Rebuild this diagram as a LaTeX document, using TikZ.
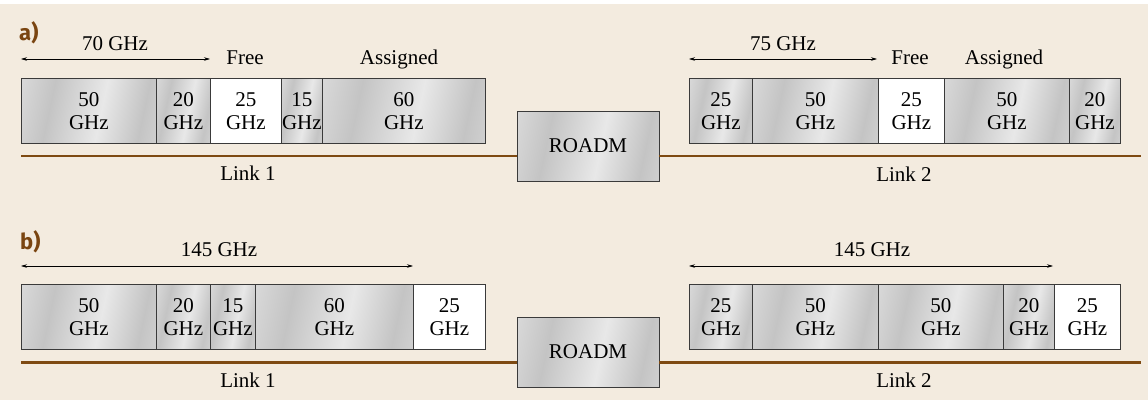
\documentclass[tikz,border=0pt]{standalone}
\usepackage{fontspec}
\setmainfont{Liberation Serif}
\newfontfamily\panelfont{Fira Sans}
\usetikzlibrary{arrows.meta}

\definecolor{paper}{HTML}{F3EBDF}
\definecolor{linkbrown}{HTML}{7E4A12}
\definecolor{labelbrown}{HTML}{7A4511}
\definecolor{edgegray}{HTML}{3A3A3A}
\definecolor{metalA}{HTML}{C4C4C4}
\definecolor{metalB}{HTML}{DCDCDC}
\definecolor{metalC}{HTML}{E8E8E8}

% brushed-metal look of the spectrum slots and the ROADM box
\pgfdeclarehorizontalshading{metal}{100bp}{%
  color(0bp)=(metalA); color(18bp)=(metalB); color(34bp)=(metalA);
  color(55bp)=(metalC); color(72bp)=(metalA); color(88bp)=(metalB);
  color(100bp)=(metalA)}

\tikzset{
  txt/.style={font=\fontsize{21}{23}\selectfont, inner sep=0pt},
  slotbase/.style={txt, draw=edgegray, line width=0.8pt, align=center,
    minimum height=65pt, anchor=north west},
  usedslot/.style={slotbase, shading=metal, shading angle=-12},
  freeslot/.style={slotbase, fill=white},
  roadm/.style={txt, draw=edgegray, line width=0.9pt, shading=metal,
    shading angle=-12, minimum width=142pt, minimum height=70pt},
  link/.style={draw=linkbrown, line width=2.6pt},
  span/.style={line width=0.6pt, {Stealth[length=6pt,width=3.5pt]}-{Stealth[length=6pt,width=3.5pt]}},
  panellabel/.style={font=\panelfont\bfseries\fontsize{22}{22}\selectfont,
    text=labelbrown, inner sep=0pt, anchor=base west},
}

\begin{document}
\begin{tikzpicture}[x=1pt, y=-1pt]
  \useasboundingbox (0,0) rectangle (1148,400);
  \fill[paper] (0,4) rectangle (1148,400);

  % ---------------- a) ----------------
  \node[panellabel] (pa) at (19,40) {a)};

  % link 1 spectrum
  \node[usedslot, minimum width=135pt] (a11) at (21,78)  {50\\GHz};
  \node[usedslot, minimum width=54pt]  (a12) at (156,78) {20\\GHz};
  \node[freeslot, minimum width=71pt]  (a13) at (210,78) {25\\GHz};
  \node[usedslot, minimum width=41pt]  (a14) at (281,78) {15\\GHz};
  \node[usedslot, minimum width=163pt] (a15) at (322,78) {60\\GHz};

  % link 2 spectrum
  \node[usedslot, minimum width=63pt]  (a21) at (689,78)  {25\\GHz};
  \node[usedslot, minimum width=126pt] (a22) at (752,78)  {50\\GHz};
  \node[freeslot, minimum width=66pt]  (a23) at (878,78)  {25\\GHz};
  \node[usedslot, minimum width=125pt] (a24) at (944,78)  {50\\GHz};
  \node[usedslot, minimum width=51pt]  (a25) at (1069,78) {20\\GHz};

  % spans and legends
  \coordinate (as1) at (21,59);  \coordinate (ae1) at (210,59);
  \coordinate (as2) at (689,59); \coordinate (ae2) at (877,59);
  \draw[span] (as1) -- (ae1);
  \draw[span] (as2) -- (ae2);
  \node[txt, anchor=base] (aw1) at (115,50) {70 GHz};
  \node[txt, anchor=base] (aw2) at (783,50) {75 GHz};
  \node[txt, anchor=base] (af1) at (245,64) {Free};
  \node[txt, anchor=base] (ag1) at (399,64) {Assigned};
  \node[txt, anchor=base] (af2) at (910,64) {Free};
  \node[txt, anchor=base] (ag2) at (1004,64) {Assigned};

  % fibre links and node
  \node[roadm] (ra) at (588,146) {ROADM};
  \coordinate (al1) at (21,156);
  \coordinate (al2) at (1141,156);
  \draw[link] (al1) -- (al1 -| ra.west);
  \draw[link] (al2 -| ra.east) -- (al2);
  \node[txt, anchor=base] (ak1) at (248,180) {Link 1};
  \node[txt, anchor=base] (ak2) at (904,181) {Link 2};

  % ---------------- b) ----------------
  \node[panellabel] (pb) at (20,249) {b)};

  % link 1 spectrum
  \node[usedslot, minimum width=135pt] (b11) at (21,284)  {50\\GHz};
  \node[usedslot, minimum width=54pt]  (b12) at (156,284) {20\\GHz};
  \node[usedslot, minimum width=45pt]  (b13) at (210,284) {15\\GHz};
  \node[usedslot, minimum width=158pt] (b14) at (255,284) {60\\GHz};
  \node[freeslot, minimum width=72pt]  (b15) at (413,284) {25\\GHz};

  % link 2 spectrum
  \node[usedslot, minimum width=63pt]  (b21) at (689,284)  {25\\GHz};
  \node[usedslot, minimum width=126pt] (b22) at (752,284)  {50\\GHz};
  \node[usedslot, minimum width=125pt] (b23) at (878,284)  {50\\GHz};
  \node[usedslot, minimum width=51pt]  (b24) at (1003,284) {20\\GHz};
  \node[freeslot, minimum width=66pt]  (b25) at (1054,284) {25\\GHz};

  % spans
  \coordinate (bs1) at (21,266);  \coordinate (be1) at (413,266);
  \coordinate (bs2) at (689,266); \coordinate (be2) at (1053,266);
  \draw[span] (bs1) -- (be1);
  \draw[span] (bs2) -- (be2);
  \node[txt, anchor=base] (bw1) at (219,256) {145 GHz};
  \node[txt, anchor=base] (bw2) at (872,256) {145 GHz};

  % fibre links and node
  \node[roadm] (rb) at (588,352) {ROADM};
  \coordinate (bl1) at (21,362.5);
  \coordinate (bl2) at (1141,362.5);
  \draw[link] (bl1) -- (bl1 -| rb.west);
  \draw[link] (bl2 -| rb.east) -- (bl2);
  \node[txt, anchor=base] (bk1) at (248,387) {Link 1};
  \node[txt, anchor=base] (bk2) at (904,387) {Link 2};
\end{tikzpicture}
\end{document}
